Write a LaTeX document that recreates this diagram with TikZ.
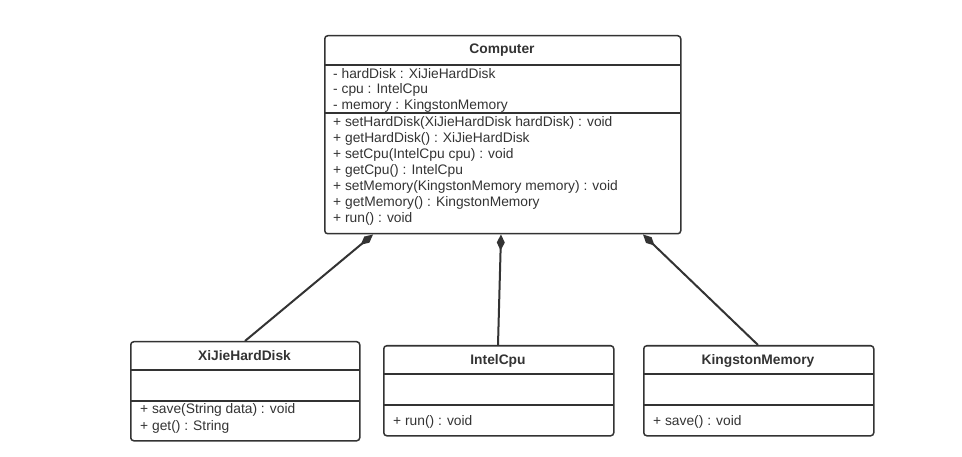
\documentclass[tikz,border=0pt]{standalone}
\usepackage{fontspec}
\setmainfont{Liberation Sans}
\usetikzlibrary{arrows.meta,calc}
\definecolor{ink}{HTML}{333333}
\begin{document}
\begin{tikzpicture}[x=1pt,y=-1pt,
  classbox/.style={draw=ink,line width=1.5pt,rounded corners=3pt,anchor=north west,inner sep=0pt},
  sep/.style={draw=ink,line width=1.5pt},
  title/.style={font=\fontsize{13.8}{15}\selectfont\bfseries,text=ink,anchor=center,inner sep=0pt},
  member/.style={font=\fontsize{13.8}{15}\selectfont,text=ink,anchor=west,inner sep=0pt},
  comp/.style={draw=ink,line width=2pt,-{Diamond[length=16pt,width=8pt]}}]
\useasboundingbox (0,0) rectangle (962,457);
% Computer
\node[classbox,minimum width=356pt,minimum height=198pt] (computer) at (324,35) {};
\draw[sep] (324,65) -- (680,65);
\draw[sep] (324,113) -- (680,113);
\node[title] (ctitle) at (502,50.5) {Computer};
\node[member] (a1) at (333,73.5) {- hardDisk : XiJieHardDisk};
\node[member] (a2) at (333,89.5) {- cpu : IntelCpu};
\node[member] (a3) at (333,105.5) {- memory : KingstonMemory};
\node[member] (m1) at (333,122.5) {+ setHardDisk(XiJieHardDisk hardDisk) : void};
\node[member] (m2) at (333,138.5) {+ getHardDisk() : XiJieHardDisk};
\node[member] (m3) at (333,154.5) {+ setCpu(IntelCpu cpu) : void};
\node[member] (m4) at (333,170.5) {+ getCpu() : IntelCpu};
\node[member] (m5) at (333,186.5) {+ setMemory(KingstonMemory memory) : void};
\node[member] (m6) at (333,202.5) {+ getMemory() : KingstonMemory};
\node[member] (m7) at (333,218.5) {+ run() : void};
% XiJieHardDisk
\node[classbox,minimum width=229pt,minimum height=99pt] (xijie) at (130,341) {};
\draw[sep] (130,370) -- (359,370);
\draw[sep] (130,401) -- (359,401);
\node[title] (xtitle) at (244.5,356) {XiJieHardDisk};
\node[member] (x1) at (140,409.5) {+ save(String data) : void};
\node[member] (x2) at (140,426.5) {+ get() : String};
% IntelCpu
\node[classbox,minimum width=230pt,minimum height=90pt] (intel) at (383,345) {};
\draw[sep] (383,374) -- (613,374);
\draw[sep] (383,405) -- (613,405);
\node[title] (ititle) at (498,360.5) {IntelCpu};
\node[member] (i1) at (393,421.5) {+ run() : void};
% KingstonMemory
\node[classbox,minimum width=230pt,minimum height=90pt] (kingston) at (643,345) {};
\draw[sep] (643,374) -- (873,374);
\draw[sep] (643,405) -- (873,405);
\node[title] (ktitle) at (758,360.5) {KingstonMemory};
\node[member] (k1) at (653,421.5) {+ save() : void};
% connectors
\draw[comp] ($(xijie.north west)+(115,0)$) -- ($(computer.south west)+(49,0)$);
\draw[comp] ($(intel.north west)+(115,0)$) -- ($(computer.south west)+(177,0)$);
\draw[comp] ($(kingston.north west)+(115,0)$) -- ($(computer.south west)+(319,0)$);
\end{tikzpicture}
\end{document}
